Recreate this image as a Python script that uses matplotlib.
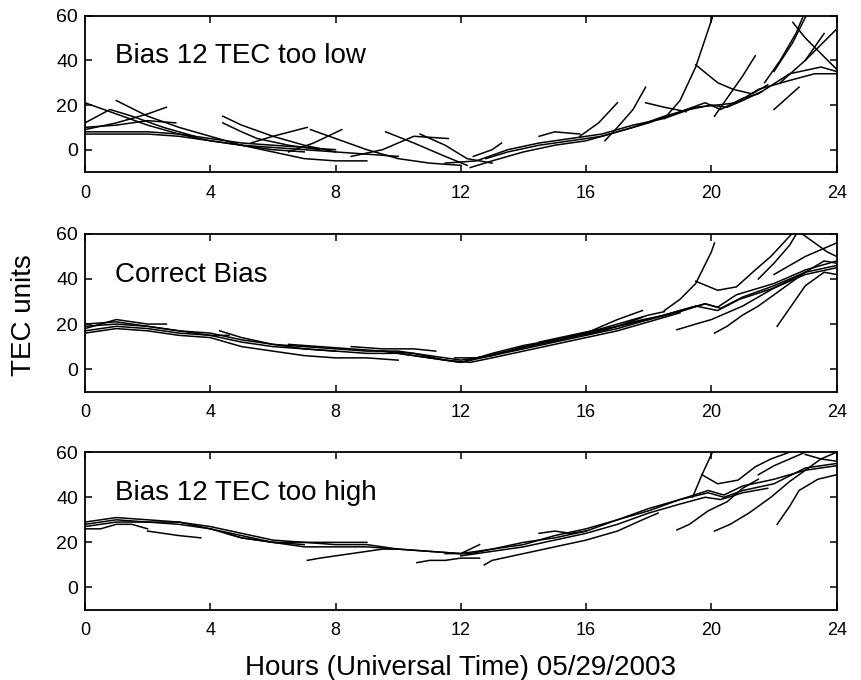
import matplotlib
matplotlib.use('Agg')
import matplotlib.pyplot as plt

plt.rcParams['font.family'] = ['Liberation Sans', 'DejaVu Sans']

# panel labels
panel_titles = ['Bias 12 TEC too low', 'Correct Bias', 'Bias 12 TEC too high']
x_ticks = [0, 4, 8, 12, 16, 20, 24]
y_ticks = [0, 20, 40, 60]

# satellite arcs, (hour UT, TEC units)
low_arcs = [
    [(0, 21), (1, 16), (2, 11), (3, 7), (4, 4), (5, 2), (6, 0), (7, -1)],
    [(1, 22), (2, 15), (3, 10), (4, 6), (5, 2), (6, -1), (7, -4), (8, -5), (9, -5)],
    [(0, 9), (1, 12), (2, 16), (2.6, 19)],
    [(0, 10), (1, 11), (2, 13), (2.9, 12)],
    [(0, 7), (1, 7), (2, 7), (3, 6), (4, 4), (5, 2), (6, 1), (7, 0), (8, -1)],
    [(0, 8), (1, 8), (2, 8), (3, 7), (4, 5), (5, 3), (6, 2), (7, 1), (8, 0)],
    [(0, 12), (0.8, 18), (1.5, 15), (2.5, 10), (3.5, 6)],
    [(4.4, 15), (5, 11), (6, 6), (7, 2), (8, -1), (9, -2), (10, -3)],
    [(4.4, 12), (5, 8), (5.5, 5), (6.5, 2), (7.5, 0)],
    [(5.3, 3), (6, 6), (7.1, 10)],
    [(6.5, -1), (7.3, 3), (8.2, 9)],
    [(7.2, 9), (8, 5), (9, 0), (10, -4), (11, -6), (12, -7)],
    [(8.5, -3), (9.5, 0), (10.5, 6), (11.6, 5)],
    [(9.6, 8), (10.5, 3), (11.5, -3), (12.2, -7)],
    [(10.7, 7), (11.5, 2), (12.2, -4), (13, -6)],
    [(12.3, -8), (13, -5), (14, -1), (15, 2), (16, 4), (17, 8), (18, 12),
     (19, 17), (19.8, 21), (20.3, 18), (21, 23), (21.5, 25), (22.5, 34),
     (23.5, 37), (24, 35)],
    [(11.5, -6), (12.5, -5), (13.5, 0), (14.5, 3), (15.5, 5), (16.5, 7),
     (17.5, 11), (18.5, 14), (19.5, 19), (20.2, 20), (20.8, 21), (21.5, 27),
     (22.5, 31), (23.3, 34), (24, 34)],
    [(12.8, -4), (13.5, -1), (14.5, 2), (15.5, 4), (16.5, 6), (17.5, 10),
     (18.5, 15), (19.3, 18), (20, 20), (20.5, 19), (21, 22), (21.6, 26)],
    [(12.4, -3), (13, 0), (13.3, 3)],
    [(14.5, 6), (15, 8), (15.8, 7)],
    [(16.6, 4), (17, 10), (17.5, 18), (17.9, 28)],
    [(15.8, 6), (16.4, 12), (17, 21)],
    [(18.5, 14), (19, 22), (19.5, 37), (20.1, 62)],
    [(19.5, 38), (20.2, 30), (20.7, 27), (21.3, 25), (21.8, 29)],
    [(17.9, 21), (18.5, 19), (19.2, 17)],
    [(20.1, 15), (20.6, 25), (21.0, 33), (21.4, 42)],
    [(22, 18), (22.4, 23), (22.8, 28)],
    [(21.7, 30), (22.2, 40), (22.7, 52), (23.0, 62)],
    [(22.0, 35), (22.6, 48), (23.1, 62)],
    [(22.6, 57), (23, 50), (23.5, 43), (24, 36)],
    [(22.2, 30), (23, 40), (23.6, 52)],
    [(23, 40), (23.5, 47), (24, 54)],
]

correct_arcs = [
    [(0, 20), (1, 21), (2, 19), (3, 17), (4, 15), (5, 12), (6, 10), (7, 9),
     (8, 8), (9, 7), (10, 7), (11, 5), (12, 3), (12.5, 5)],
    [(0, 16), (1, 18), (2, 17), (3, 15), (4, 14), (5, 10), (6, 8), (7, 6),
     (8, 5), (9, 5), (10, 4)],
    [(0, 18), (1, 22), (2, 20), (2.6, 20)],
    [(0, 17), (1, 19), (2, 18), (3, 16), (4, 15), (4.6, 15)],
    [(0, 19), (1, 20), (2, 19), (3, 17), (4, 16), (5, 13), (6, 11), (7, 9), (8, 8)],
    [(4.3, 17), (5, 14), (6, 11), (7, 10), (8, 9), (9, 8), (10, 8), (11, 6),
     (12, 4), (13, 6), (14, 9), (15, 12), (16, 15), (17, 18), (18, 22),
     (19, 26), (19.8, 29), (20.2, 27.5), (20.8, 33), (22, 38), (23, 44), (24, 48)],
    [(6.5, 11), (7.5, 10), (8.5, 9), (9.5, 8), (10.5, 7), (11.5, 4), (12.3, 3),
     (13, 5), (14, 8), (15, 11), (16, 14), (17, 17), (18, 21), (19, 25)],
    [(8.5, 10), (9.5, 9), (10.5, 9), (11.2, 8)],
    [(9.5, 8), (10.5, 6), (11.5, 4), (12, 3), (13, 6), (14, 10), (15, 13),
     (16, 16), (17, 19), (17.8, 23)],
    [(12.3, 4), (13, 7), (14, 10.5), (15, 13), (16, 16), (17, 19), (18, 22),
     (19, 25.5), (19.8, 29), (20.3, 27), (21, 32), (22, 37), (23, 43), (24, 46)],
    [(11.8, 5), (12.5, 5), (13.5, 8), (14.5, 11), (15.5, 14), (16.5, 17),
     (17.5, 21), (18.5, 24), (19.5, 28), (20.2, 26), (20.9, 31), (22, 36),
     (23, 42), (24, 45)],
    [(14.5, 12), (15.5, 15), (16.5, 18), (17.5, 22), (18, 24), (18.5, 25.5)],
    [(16, 16), (17, 22), (17.8, 26)],
    [(18.5, 26), (19, 31), (19.5, 38), (20, 52), (20.1, 56)],
    [(19.5, 39), (20.2, 35), (20.8, 36.5), (21.4, 44), (21.9, 50), (22.5, 59), (22.7, 62)],
    [(18.9, 17.5), (19.5, 20), (20, 22), (20.5, 25), (21, 28), (22, 36), (23, 43)],
    [(20.1, 16), (20.5, 19), (21, 24), (21.5, 28), (22, 33), (22.5, 38),
     (23, 43), (23.6, 48), (24, 47)],
    [(22.1, 19), (22.5, 27), (23, 37), (23.6, 43), (24, 42)],
    [(21.5, 40), (22, 47), (22.5, 55), (22.8, 62)],
    [(22.9, 60), (23.3, 56), (23.7, 52), (24, 50)],
    [(22, 42), (22.5, 46), (23, 50), (23.5, 53), (24, 56)],
]

high_arcs = [
    [(0, 29), (1, 31), (2, 30), (3, 29), (4, 26), (5, 22), (6, 20), (7, 20),
     (8, 19), (9, 19), (10, 17), (11, 16), (12, 15), (12.6, 19)],
    [(0, 26), (0.5, 26), (1, 28), (1.5, 28), (2, 26)],
    [(0, 27), (1, 29), (2, 29), (3, 28), (4, 26), (5, 23), (6, 20), (7, 19)],
    [(0, 28), (1, 30), (2, 29), (3, 29), (4, 27), (5, 24), (6, 21), (7, 20), (8, 20), (9, 20)],
    [(2, 25), (2.5, 24), (3, 23), (3.7, 22)],
    [(4.5, 24), (5, 22), (6, 20), (7, 18), (8, 18), (9, 18), (10, 17), (11, 16),
     (12, 15), (13, 17), (14, 20), (15, 22), (16, 25), (17, 30), (18, 34),
     (19, 39), (19.9, 42), (20.4, 40), (21, 43), (22, 46), (23, 53), (24, 55)],
    [(7.1, 12), (7.5, 13), (8, 14), (8.5, 15), (9, 16), (9.5, 17), (10, 17)],
    [(10.6, 11), (11, 12), (11.5, 12), (12, 13), (12.6, 13)],
    [(12.75, 10), (13, 12), (14, 15), (15, 18), (16, 21), (17, 25), (17.8, 30), (18.3, 33)],
    [(11.5, 15), (12.3, 15), (13, 17), (14, 19), (15, 23), (16, 26), (17, 30),
     (18, 35), (19, 39), (19.9, 43), (20.4, 41), (21, 45), (22, 48), (23, 52), (24, 54)],
    [(12, 14), (13, 16), (14, 18), (15, 21), (16, 24), (17, 28), (18, 33),
     (19, 37), (19.8, 40), (20.3, 39), (21, 42), (21.8, 44)],
    [(14.5, 24), (15, 25), (15.5, 24), (16, 25)],
    [(18.9, 25.5), (19.3, 28), (19.9, 34), (20.5, 38), (21, 44), (21.5, 48)],
    [(19.4, 40), (19.7, 50), (20, 59), (20.1, 62)],
    [(19.7, 50), (20.2, 46), (20.85, 47.6), (21.4, 53.5), (21.9, 57), (22.5, 60)],
    [(20.1, 25), (20.6, 28), (21.2, 33), (21.9, 40), (22.5, 47), (23, 52),
     (23.5, 57), (24, 60)],
    [(22.1, 28), (22.5, 36), (22.8, 43), (23.4, 48), (24, 50)],
    [(21.5, 50), (22, 54), (22.5, 57), (23, 60)],
    [(23, 59), (23.5, 57), (24, 56)],
]

panels = [low_arcs, correct_arcs, high_arcs]

fig = plt.figure(figsize=(8.61, 6.80), dpi=100)
# axes boxes in figure fraction: left, bottom, width, height
boxes = [
    [0.0987, 0.747, 0.873, 0.230],
    [0.0987, 0.424, 0.873, 0.232],
    [0.0987, 0.103, 0.873, 0.232],
]

for box, arcs, title in zip(boxes, panels, panel_titles):
    ax = fig.add_axes(box)
    for arc in arcs:
        xs = [p[0] for p in arc]
        ys = [p[1] for p in arc]
        ax.plot(xs, ys, color='black', linewidth=1.1)
    ax.set_xlim(0, 24)
    ax.set_ylim(-10, 60)
    ax.set_xticks(x_ticks)
    ax.set_yticks(y_ticks)
    ax.tick_params(direction='in', length=5, width=1.1, top=True, right=True,
                   labelsize=14)
    ax.tick_params(axis='y', pad=5)
    ax.tick_params(axis='x', pad=9, labelsize=13)
    for sp in ax.spines.values():
        sp.set_linewidth(1.3)
    ax.text(0.04, 0.695, title, transform=ax.transAxes, fontsize=20)

fig.text(0.535, 0.0074, 'Hours (Universal Time) 05/29/2003', ha='center',
         va='baseline', fontsize=20)
fig.text(0.028, 0.537, 'TEC units', rotation=90, va='center', ha='center', fontsize=20)

fig.savefig('out.png', dpi=100)
